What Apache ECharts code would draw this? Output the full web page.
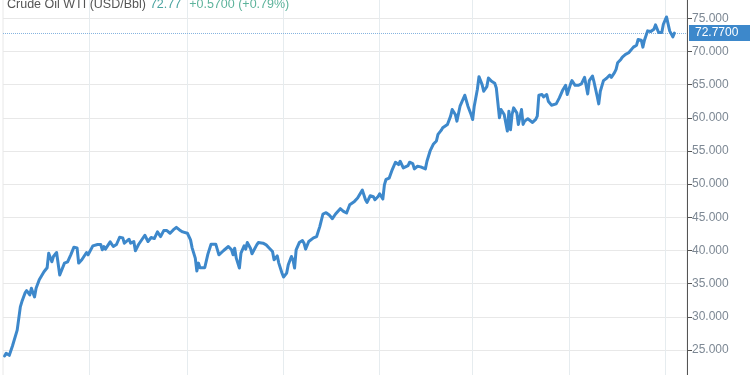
<!DOCTYPE html>
<html>
<head>
<meta charset="utf-8">
<script src="https://cdn.jsdelivr.net/npm/echarts@6/dist/echarts.min.js"></script>
<style>
html,body{margin:0;padding:0;background:#fff;}
#chart{width:750px;height:375px;}
</style>
</head>
<body>
<div id="chart"></div>
<script>
// Data: trading-day offsets (days after 2020-05-07) and WTI prices (USD/Bbl)
const startDate = [2020, 4, 7];
const endDate = [2021, 6, 15];
const dayOffsets = [
  1,2,3,4,6,7,9,11,12,14,
  15,17,18,20,21,23,24,26,28,29,
  31,32,34,36,37,39,41,43,45,47,
  48,50,51,53,54,57,60,62,63,64,
  65,68,70,72,74,76,77,80,81,83,
  84,86,90,92,94,96,98,100,102,104,
  106,108,110,112,114,117,119,120,122,123,
  124,125,128,130,132,135,137,140,143,145,
  146,147,148,150,151,153,154,155,157,158,
  161,162,165,166,167,169,170,171,172,174,
  175,177,178,180,181,183,184,185,186,188,
  190,191,192,194,195,197,199,201,203,205,
  207,209,211,214,216,218,220,221,223,225,
  228,230,231,233,235,236,238,239,241,242,
  243,245,247,248,249,251,252,254,255,257,
  258,260,261,263,265,266,268,269,271,273,
  275,276,278,279,280,282,284,285,287,288,
  290,291,293,294,295,297,298,299,301,302,
  304,305,307,308,310,312,313,314,315,316,
  317,318,320,321,322,323,324,326,327,329,
  330,331,333,334,336,338,339,340,342,343,
  345,346,348,349,351,352,353,355,357,358,
  360,361,363,365,367,369,371,372,374,375,
  377,378,379,381,382,383,385,386,388,389,
  390,392,393,394,395,397,398,400,402,403,
  405,406,407,409,411,413,414,416,418,419,
  421,422,423,425,426
];
const prices = [
  24.1,24.5,24.75,24.2,25.6,25.5,28,31.5,32.3,33.6,
  33.95,33.3,34.3,33.0,34.3,35.6,35.7,36.8,37.4,39.6,
  38.3,39.1,39.7,36.3,36.3,38.1,38.3,39.35,40.5,40.4,
  38.1,38.6,38.85,39.7,39.35,40.7,40.9,40.9,40.1,40.6,
  40.2,41.3,40.6,40.9,42.0,41.9,41.1,41.7,41.1,41.35,
  39.95,40.9,42.3,41.35,41.96,41.8,42.8,42.1,43.0,43.0,
  42.6,43.1,43.5,43.1,42.8,42.6,41.6,40.4,38.85,36.9,
  38.1,37.4,37.4,39.45,40.95,40.95,39.35,40.0,40.6,40.1,
  39.35,40.35,38.85,37.35,39.6,40.7,40.2,41.2,40.35,39.5,
  40.85,41.2,41.1,41.35,40.85,40.35,40.6,39.85,38.6,39.2,
  38.1,36.6,36.0,36.6,37.85,39.1,38.6,37.35,40.1,41.2,
  41.5,41.1,40.2,41.35,41.6,41.9,42.1,43.6,45.5,45.7,
  45.35,44.8,45.5,46.3,45.9,45.65,46.9,46.65,47.4,47.9,
  49.1,47.65,47.25,48.25,48.1,47.65,48.15,48.55,47.75,49.9,
  50.7,50.9,52.2,52.45,53.3,52.95,53.45,52.45,52.2,52.8,
  53.3,53.1,52.3,52.7,52.6,52.8,52.3,53.45,55.0,56.0,
  56.5,57.5,58.1,58.5,58.2,59.0,60.25,61.25,60.5,59.5,
  61.75,61.85,63.4,63.7,61.75,60.5,59.75,61.75,64.3,66.2,
  65.0,64.0,64.7,66.0,65.5,65.2,64.5,62.25,60.0,61.25,
  61.5,60.5,58.0,61.0,58.2,60.5,61.5,60.75,59.0,61.25,
  59.0,59.5,59.85,59.75,59.3,59.75,60.25,63.4,63.5,63.15,
  63.5,62.5,61.9,61.75,62.1,62.0,63.0,64.1,64.9,63.5,
  65.0,65.6,64.9,64.9,65.1,66.1,63.6,65.6,66.3,65.4,
  63.25,62.1,64.0,65.6,65.8,65.95,66.45,66.1,66.8,67.3,
  68.3,68.8,69.15,68.95,69.55,69.8,70.05,70.65,70.95,71.8,
  71.7,70.65,71.7,73.1,73.0,73.35,74.0,72.85,72.85,74.1,
  75.2,75.0,73.1,72.2,72.77
];
const gridDates = [[2020,6,1],[2020,8,1],[2020,10,1],[2021,0,1],[2021,2,1],[2021,4,1],[2021,6,1]];
const lastPrice = 72.77;
const titleName = 'Crude Oil WTI (USD/Bbl)';
const titlePrice = '72.77';
const titleChange = '+0.5700 (+0.79%)';

const DAY = 86400000;
const t0 = Date.UTC(...startDate);
const seriesData = dayOffsets.map((d, i) => [t0 + d * DAY, prices[i]]);

const chart = echarts.init(document.getElementById('chart'), null, {renderer: 'canvas'});
const font = 'Liberation Sans, Arial, sans-serif';
chart.setOption({
  animation: false,
  backgroundColor: '#fff',
  title: {
    left: 2, top: -7,
    text: '{a|' + titleName + '}{b|' + titlePrice + '}{c|' + titleChange + '}',
    textStyle: {
      fontWeight: 'normal',
      rich: {
        a: {fontFamily: font, fontSize: 12.5, fontWeight: 'normal', color: '#555', padding: [0, 4, 0, 0]},
        b: {fontFamily: font, fontSize: 12.5, fontWeight: 'normal', color: '#4aa3a0', padding: [0, 8, 0, 0]},
        c: {fontFamily: font, fontSize: 12.5, fontWeight: 'normal', color: '#5db39b'}
      }
    }
  },
  grid: {
    left: 3, right: 63, top: -14.9, bottom: -8.2,
    outerBoundsMode: 'none',
    containLabel: false,
    show: true, borderColor: '#e8e8e8', borderWidth: 1, backgroundColor: 'transparent'
  },
  xAxis: {
    type: 'time',
    min: Date.UTC(...startDate),
    max: Date.UTC(...endDate),
    axisLine: {show: false}, axisTick: {show: false}, axisLabel: {show: false},
    splitLine: {show: false}
  },
  yAxis: {
    type: 'value', position: 'right',
    min: 20, max: 80, interval: 5,
    axisLine: {show: true, lineStyle: {color: '#555', width: 1}},
    axisTick: {show: true, length: 5, lineStyle: {color: '#555'}},
    axisLabel: {
      show: true, color: '#7d8894', fontFamily: font, fontSize: 12, margin: 5,
      formatter: v => v.toFixed(3)
    },
    splitLine: {show: true, lineStyle: {color: '#e8e8e8', width: 1}}
  },
  series: [{
    type: 'line',
    data: seriesData,
    showSymbol: false,
    symbol: 'none',
    lineStyle: {color: '#3d88cb', width: 3, join: 'round', cap: 'round'},
    itemStyle: {color: '#3d88cb'},
    z: 5,
    markLine: {
      silent: true,
      symbol: ['none', 'none'],
      animation: false,
      data: gridDates.map(g => ({
        xAxis: Date.UTC(...g),
        lineStyle: {color: '#e6ecef', width: 1, type: 'solid'},
        label: {show: false}
      })).concat([{
        yAxis: lastPrice,
        lineStyle: {color: '#86b4df', width: 1, type: 'dotted'},
        label: {
          show: true, position: 'end', distance: 2,
          formatter: lastPrice.toFixed(4),
          backgroundColor: '#3d88cb', color: '#fff',
          fontFamily: font, fontSize: 12, lineHeight: 12,
          padding: [2, 12, 2, 6]
        }
      }])
    }
  }]
});
</script>
</body>
</html>
